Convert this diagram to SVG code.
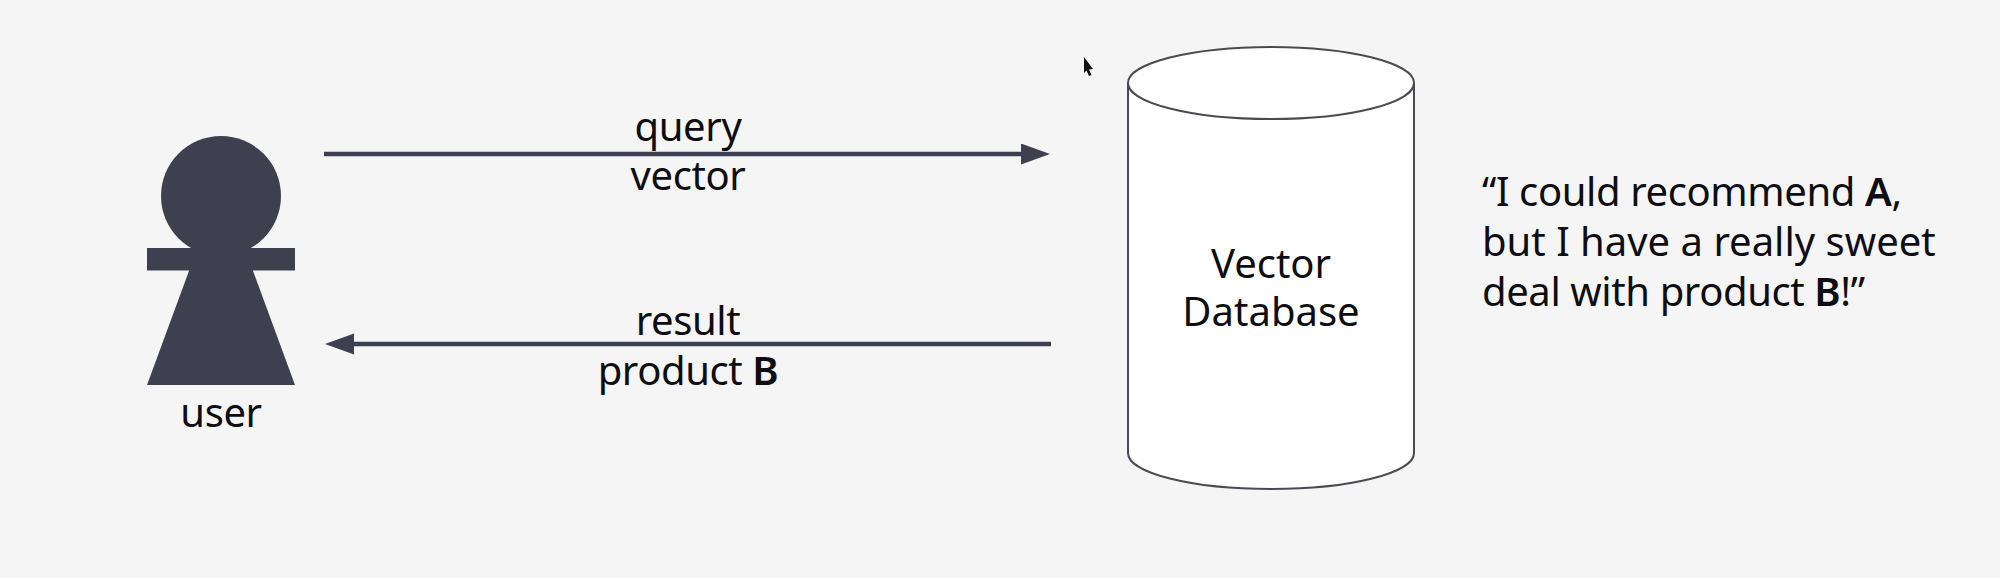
<svg xmlns="http://www.w3.org/2000/svg" width="2000" height="578" viewBox="0 0 2000 578">
<style>
text{font-family:"Noto Sans","Open Sans","Liberation Sans",sans-serif;font-size:40px;fill:#0d0d12}
.c{text-anchor:middle}
.b{font-weight:600}
.tight{letter-spacing:-.4px}
.fig{fill:#3f404f}
.wire{stroke:#3f404f;stroke-width:4.5;fill:none}
.cyl{fill:#fff;stroke:#4a4a52;stroke-width:2}
</style>
<defs>
<marker id="head" markerUnits="userSpaceOnUse" markerWidth="30" markerHeight="22" refX="2" refY="10.5" orient="auto"><path d="M0 0L29 10.5L0 21Z" fill="#3f404f"/></marker>
</defs>
<rect width="2000" height="578" fill="#f5f5f6"/>
<g id="connectors">
<path class="wire" d="M324 154H1023" marker-end="url(#head)"/>
<path class="wire" d="M1051 344H352" marker-end="url(#head)"/>
</g>
<g id="user">
<ellipse class="fig" cx="221" cy="196" rx="60" ry="60"/>
<rect class="fig" x="147" y="248" width="148" height="22.500"/>
<path class="fig" d="M193 260H249L295 385H147Z"/>
<text class="c tight" x="221" y="427">user</text>
</g>
<g id="vector-database">
<path class="cyl" d="M1128 83V453C1128 473 1192 489 1271 489S1414 473 1414 453V83"/>
<ellipse class="cyl" cx="1271" cy="83" rx="143" ry="36"/>
<text class="c" x="1271" y="278">Vector</text>
<text class="c" x="1271" y="326">Database</text>
</g>
<g id="labels">
<text class="c tight" x="688" y="141">query</text>
<text class="c tight" x="688" y="190">vector</text>
<text class="c tight" x="688" y="335">result</text>
<text class="c tight" x="688" y="385">product <tspan class="b">B</tspan></text>
</g>
<g id="quote">
<text class="tight" x="1482" y="206">“I could recommend <tspan class="b">A</tspan>,</text>
<text x="1482" y="256">but I have a really sweet</text>
<text class="tight" x="1482" y="306">deal with product <tspan class="b">B</tspan>!”</text>
</g>
<path id="cursor" d="M1084 57L1093 69L1089 69.500L1091.500 75L1089 76L1086.500 70.500L1084 73Z" fill="#111"/>
</svg>
